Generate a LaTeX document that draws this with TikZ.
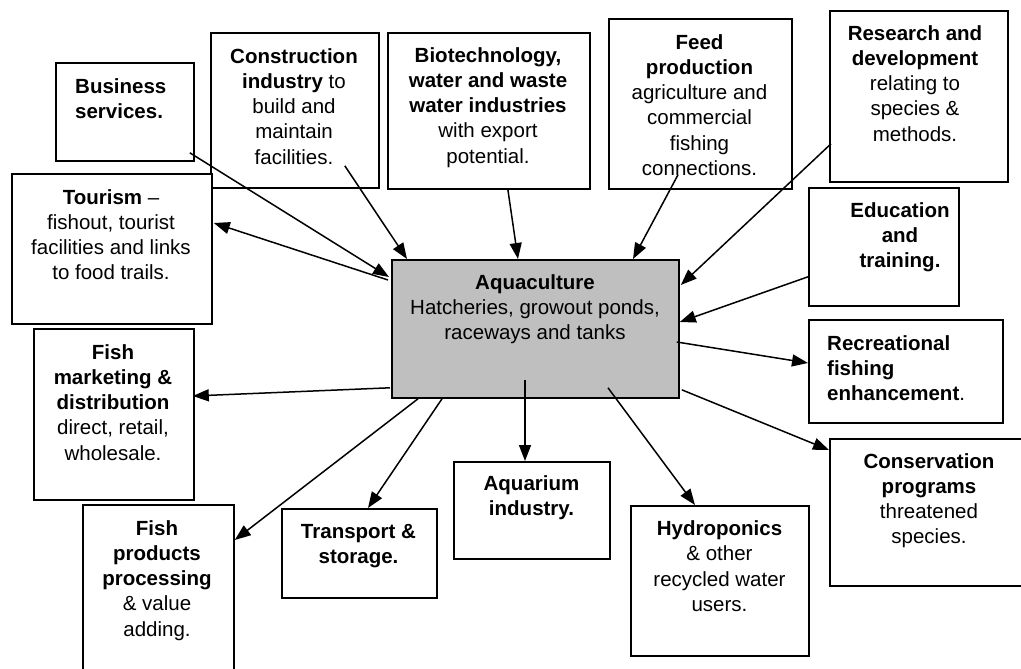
\documentclass[tikz,border=0pt]{standalone}
\usepackage{fontspec}
\setmainfont{Liberation Sans}
\usetikzlibrary{arrows.meta,calc}

\tikzset{
  box/.style={draw=black, line width=1.8pt, fill=white, rectangle, inner sep=0pt, anchor=north west},
  hub/.style={box, fill=black!25},
  % multi-line texts are placed by the baseline of their last line
  txt/.style={inner sep=0pt, align=center, anchor=base,
              font=\fontsize{20.5}{25.3}\selectfont},
  txtl/.style={txt, align=left, anchor=base west},
  arr/.style={line width=1.5pt, -{Triangle[length=16pt,width=12pt]}}
}

\begin{document}
\begin{tikzpicture}[x=1pt,y=-1pt]
\useasboundingbox (0,0) rectangle (1021,669);
\clip (0,0) rectangle (1021,669);
\fill[white] (0,0) rectangle (1021,669);

% boxes around the hub
\node[box, minimum width=138, minimum height=98]  (bus)  at (55,62)   {};
\node[box, minimum width=168, minimum height=155] (con)  at (210,32)  {};
\node[box, minimum width=200, minimum height=150] (tou)  at (11,173)  {};
\node[box, minimum width=202, minimum height=156] (bio)  at (387,32)  {};
\node[box, minimum width=183, minimum height=170] (feed) at (608,18)  {};
\node[box, minimum width=178, minimum height=171] (res)  at (829,10)  {};
\node[box, minimum width=150, minimum height=118] (edu)  at (808,187) {};
\node[box, minimum width=194, minimum height=103] (rec)  at (808,319) {};
\node[box, minimum width=210, minimum height=147] (cons) at (829,438) {};
\node[box, minimum width=160, minimum height=171] (fm)   at (33,328)  {};
\node[box, minimum width=151, minimum height=190] (fp)   at (82,504)  {};
\node[box, minimum width=155, minimum height=89]  (tr)   at (281,508) {};
\node[box, minimum width=156, minimum height=97]  (aqm)  at (453,461) {};
\node[box, minimum width=178, minimum height=150] (hyd)  at (630,505) {};
\node[hub, minimum width=287, minimum height=138] (aq)   at (391,259) {};

% box texts
\node[txtl] (busT) at (75,118.3) {\textbf{Business}\\\textbf{services.}};
\node[txt] (conT) at (294,164.2) {\textbf{Construction}\\\textbf{industry} to\\build and\\maintain\\facilities.};
\node[txt] (touT) at (111,279.9) {\textbf{Tourism} --\\fishout, tourist\\facilities and links\\to food trails.};
\node[txt] (bioT) at (488,163.2) {\textbf{Biotechnology,}\\\textbf{water and waste}\\\textbf{water industries}\\with export\\potential.};
\node[txt] (feedT) at (699.5,175.5) {\textbf{Feed}\\\textbf{production}\\agriculture and\\commercial\\fishing\\connections.};
\node[txt] (resT) at (915,141.2) {\textbf{Research and}\\\textbf{development}\\relating to\\species \&\\methods.};
\node[txt] (eduT) at (900,267.6) {\textbf{Education}\\\textbf{and}\\\textbf{training.}};
\node[txtl] (recT) at (827,400.6) {\textbf{Recreational}\\\textbf{fishing}\\\textbf{enhancement}.};
\node[txt] (consT) at (929,543.9) {\textbf{Conservation}\\\textbf{programs}\\threatened\\species.};
\node[txt] (aqT) at (535,339.6) {\textbf{Aquaculture}\\Hatcheries, growout ponds,\\raceways and tanks};
\node[txt] (fmT) at (113,460.2) {\textbf{Fish}\\\textbf{marketing \&}\\\textbf{distribution}\\direct, retail,\\wholesale.};
\node[txt] (fpT) at (157,636.2) {\textbf{Fish}\\\textbf{products}\\\textbf{processing}\\\& value\\adding.};
\node[txt] (trT) at (358.5,563.3) {\textbf{Transport \&}\\\textbf{storage.}};
\node[txt] (aqmT) at (531.5,515.3) {\textbf{Aquarium}\\\textbf{industry.}};
\node[txt] (hydT) at (719.5,611.4) {\textbf{Hydroponics}\\\& other\\recycled water\\users.};

% connectors into the hub
\draw[arr] ($(bus.south east)+(-5,-9)$)   -- ($(aq.north west)+(-2,18)$);
\draw[arr] ($(con.south east)+(-35,-23)$) -- ($(aq.north west)+(16,0)$);
\draw[arr] ($(bio.south)+(19,0)$)         -- ($(aq.north west)+(127,0)$);
\draw[arr] ($(feed.south west)+(70,-15)$) -- ($(aq.north west)+(242,0)$);
\draw[arr] ($(res.south west)+(2,-39)$)   -- ($(aq.north east)+(1,26)$);
\draw[arr] ($(edu.south west)+(0,-30)$)   -- ($(aq.north east)+(0,63)$);

% connectors out of the hub
\draw[arr] ($(aq.north west)+(-3,21)$)    -- ($(tou.north east)+(1,50)$);
\draw[arr] ($(aq.north east)+(-3,83)$)    -- ($(rec.north west)+(0,44)$);
\draw[arr] ($(aq.south east)+(2,-9)$)     -- ($(cons.north west)+(0,12)$);
\draw[arr] ($(aq.south west)+(217,-11)$)  -- ($(hyd.north west)+(65,0)$);
\draw[arr] ($(aq.south west)+(134,-19)$)  -- ($(aqm.north west)+(72,0)$);
\draw[arr] ($(aq.south west)+(51,0)$)     -- ($(tr.north west)+(87,0)$);
\draw[arr] ($(aq.south west)+(27,0)$)     -- ($(fp.north east)+(0,36)$);
\draw[arr] ($(aq.south west)+(-1,-11)$)   -- ($(fm.north east)+(-2,68)$);
\end{tikzpicture}
\end{document}
